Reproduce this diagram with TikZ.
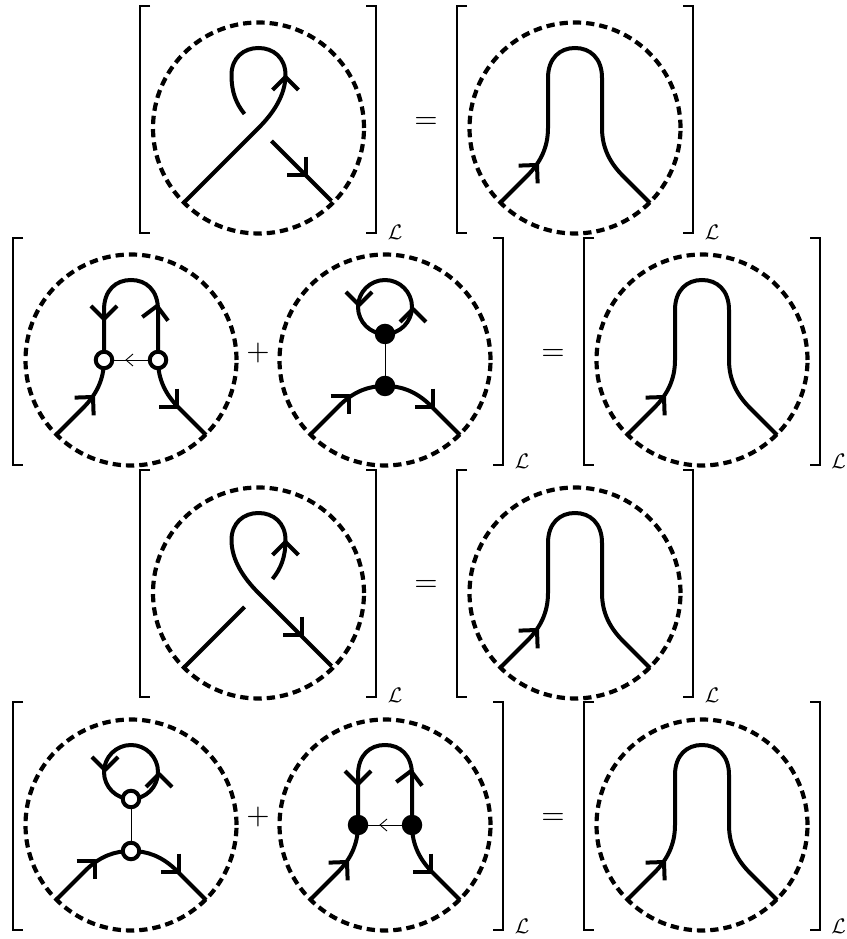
\documentclass[tikz,border=0pt]{standalone}
\begin{document}
\begin{tikzpicture}[x=1pt,y=1pt,
  strand/.style={line width=4pt,line join=round},
  dashcircle/.style={line width=4.2pt,dash pattern=on 8.3pt off 5pt},
  thin link/.style={line width=0.9pt},
  brk/.style={line width=2pt},
  openv/.style={circle,draw,line width=4pt,fill=white,minimum size=16.5pt,inner sep=0pt},
  fullv/.style={circle,fill=black,minimum size=20.5pt,inner sep=0pt},
  op/.style={inner sep=0pt,scale=3},
  sub/.style={inner sep=0pt,scale=2.1},
  disc/.pic={\draw[dashcircle] (0,0) circle[radius=105.5];},
  bumpcurve/.pic={\draw[strand] (-75,-75) -- (-48,-48) .. controls (-35,-35) and (-27,-20) .. (-27,0) -- (-27,50) .. controls (-27,70) and (-15,80) .. (0,80) .. controls (15,80) and (27,70) .. (27,50) -- (27,0) .. controls (27,-20) and (35,-35) .. (48,-48) -- (75,-75);},
  plainbump/.pic={\pic{disc};\pic{bumpcurve};\barb{-38}{-37}{47}},
  kinka/.pic={\pic{disc};
    \draw[strand] (-75,-75) -- (0,0) .. controls (15,15) and (27,33) .. (27,53) .. controls (27,70) and (15,80) .. (0,80) .. controls (-15,80) and (-27,70) .. (-27,53) .. controls (-27,35) and (-22,24) .. (-14,14);
    \draw[strand] (13,-13) -- (73,-73);
    \barb{27}{51}{90}\barb{47}{-47}{-45}},
  kinkb/.pic={\pic{disc};
    \draw[strand] (73,-73) -- (0,0) .. controls (-15,15) and (-27,33) .. (-27,53) .. controls (-27,70) and (-15,80) .. (0,80) .. controls (15,80) and (27,70) .. (27,53) .. controls (27,35) and (22,24) .. (14,14);
    \draw[strand] (-14,-14) -- (-75,-75);
    \barb{27}{51}{90}\barb{43}{-42}{-45}},
  hvertex/.pic={\pic{disc};\pic{bumpcurve};
    \barb{-27}{41}{-90}\barb{26}{54}{82}\barb{-38}{-37}{47}\barb{46}{-47}{-45}},
  vvertex/.pic={\pic{disc};
    \draw[strand] (0,53) circle[radius=27];
    \draw[strand] (-75,-75) -- (-44,-44) .. controls (-30,-31) and (-16,-26) .. (0,-26) .. controls (16,-26) and (30,-31) .. (44,-44) -- (75,-75);
    \barb{-26}{55}{-90}\barb{28}{51}{90}\barb{-36}{-36}{45}\barb{48}{-47}{-45}},
]
\newcommand\barb[3]{\draw[strand,shift={(#1,#2)},rotate=#3] (-13,13) -- (0,0) -- (-13,-13);}
\newcommand\leftbr[3]{\draw[brk] (#1+10,#2) -- (#1,#2) -- (#1,#3) -- (#1+10,#3);}
\newcommand\rightbr[3]{\draw[brk] (#1-10,#2) -- (#1,#2) -- (#1,#3) -- (#1-10,#3);}
\useasboundingbox (0,0) rectangle (846,939);
% row 1
\leftbr{140}{933}{706}\rightbr{376}{933}{706}
\pic at (258.5,811) {kinka};
\node[sub] (l1) at (395,707) {$\mathcal{L}$};
\node[op] (e1) at (426,816) {$=$};
\leftbr{457}{933}{706}\rightbr{693}{933}{706}
\pic at (575,811) {plainbump};
\node[sub] (l2) at (712,707) {$\mathcal{L}$};
% row 2
\leftbr{13}{701}{474}\rightbr{503}{701}{474}
\pic at (131,579) {hvertex};
\node[openv] (a1) at (104,579) {};
\node[openv] (a2) at (158,579) {};
\draw[thin link] (a2) -- (a1);
\draw[thin link] (133,585) -- (126,579) -- (133,573);
\node[op] (p1) at (258,586) {$+$};
\pic at (385,579) {vvertex};
\node[fullv] (b1) at (385,605) {};
\node[fullv] (b2) at (385,553) {};
\draw[thin link] (b1) -- (b2);
\node[sub] (l3) at (522,478) {$\mathcal{L}$};
\node[op] (e2) at (553,584) {$=$};
\leftbr{584}{701}{474}\rightbr{820}{701}{474}
\pic at (702,579) {plainbump};
\node[sub] (l4) at (838.5,478) {$\mathcal{L}$};
% row 3
\leftbr{140}{469}{242}\rightbr{376}{469}{242}
\pic at (258.5,346) {kinkb};
\node[sub] (l5) at (395,244) {$\mathcal{L}$};
\node[op] (e3) at (426,353) {$=$};
\leftbr{457}{469}{242}\rightbr{693}{469}{242}
\pic at (575,346) {plainbump};
\node[sub] (l6) at (712,244) {$\mathcal{L}$};
% row 4
\leftbr{13}{237}{9}\rightbr{503}{237}{9}
\pic at (131,114) {vvertex};
\node[openv] (c1) at (131,140) {};
\node[openv] (c2) at (131,88) {};
\draw[thin link] (c1) -- (c2);
\node[op] (p2) at (258,122) {$+$};
\pic at (385,114) {hvertex};
\node[fullv] (d1) at (358,114) {};
\node[fullv] (d2) at (412,114) {};
\draw[thin link] (d2) -- (d1);
\draw[thin link] (387,120) -- (380,114) -- (387,108);
\node[sub] (l7) at (522,13) {$\mathcal{L}$};
\node[op] (e4) at (553,120) {$=$};
\leftbr{584}{237}{9}\rightbr{820}{237}{9}
\pic at (702,114) {plainbump};
\node[sub] (l8) at (838.5,13) {$\mathcal{L}$};
\end{tikzpicture}
\end{document}
